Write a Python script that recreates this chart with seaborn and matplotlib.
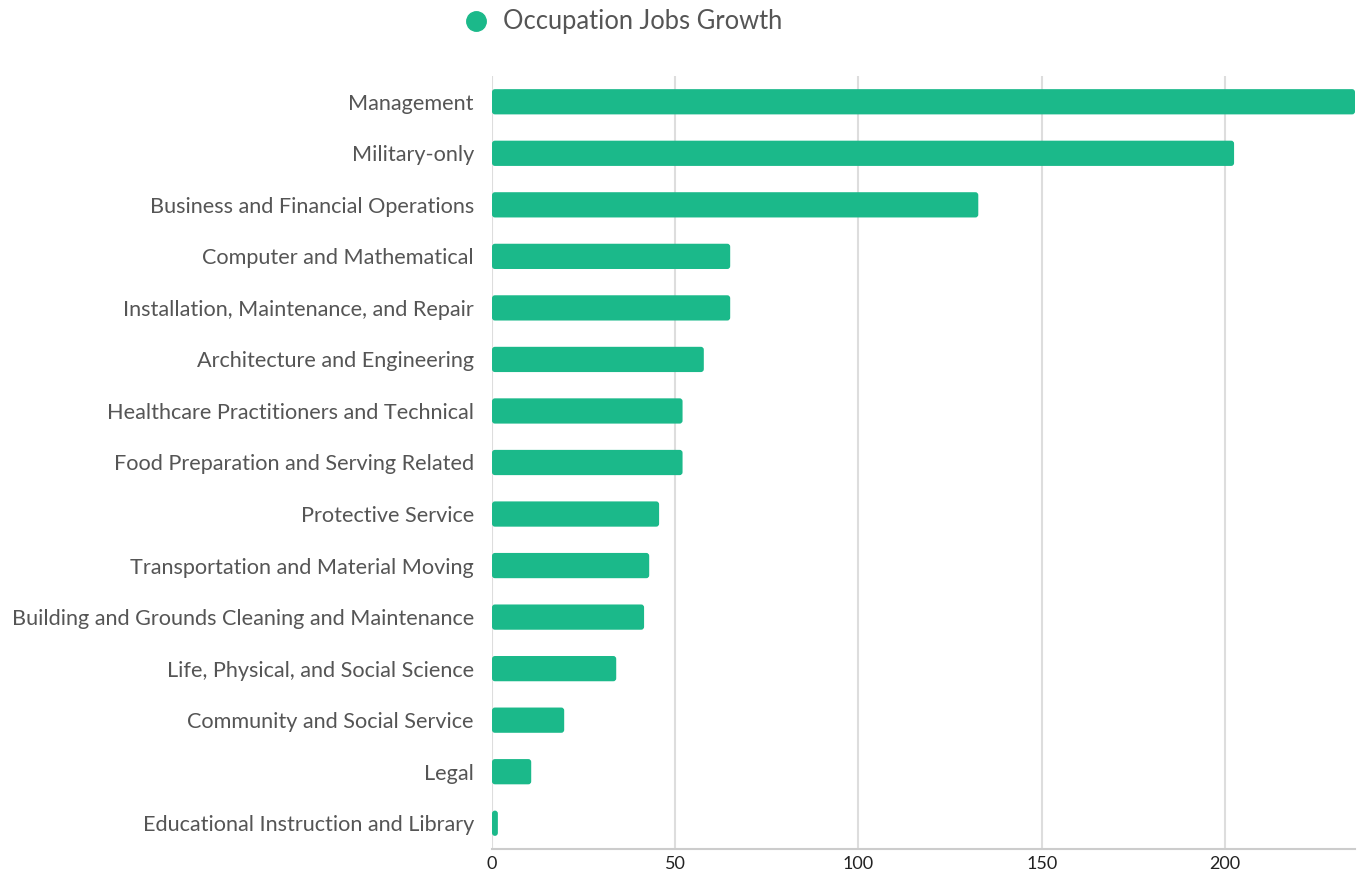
import matplotlib
matplotlib.use("Agg")
import matplotlib.pyplot as plt
import seaborn as sns
import pandas as pd
from matplotlib.patches import FancyBboxPatch
from matplotlib.lines import Line2D

categories = [
    "Management",
    "Military-only",
    "Business and Financial Operations",
    "Computer and Mathematical",
    "Installation, Maintenance, and Repair",
    "Architecture and Engineering",
    "Healthcare Practitioners and Technical",
    "Food Preparation and Serving Related",
    "Protective Service",
    "Transportation and Material Moving",
    "Building and Grounds Cleaning and Maintenance",
    "Life, Physical, and Social Science",
    "Community and Social Service",
    "Legal",
    "Educational Instruction and Library",
]
values = [235.5, 202.5, 132.7, 65, 65, 57.8, 52, 52, 45.6, 42.9, 41.5, 33.9, 19.7, 10.7, 1.6]
series_name = "Occupation Jobs Growth"
x_ticks = [0, 50, 100, 150, 200]

color = "#1bb98a"
sns.set_theme(style="white")
plt.rcParams["font.family"] = ["Lato", "DejaVu Sans"]

df = pd.DataFrame({"category": categories, "value": values})

fig = plt.figure(figsize=(13.68, 8.75), dpi=100)
ax = fig.add_axes([492/1368, 1-849/875, (1355-492)/1368, (849-76)/875])

sns.barplot(data=df, y="category", x="value", orient="h", color=color,
            width=0.49, ax=ax, saturation=1, zorder=3)

# round bar corners
xrange_px = (1355-492) / 235.5
aspect = xrange_px / 51.5
for p in list(ax.patches):
    x0, y0 = p.get_x(), p.get_y()
    w, h = p.get_width(), p.get_height()
    fb = FancyBboxPatch((x0, y0), w, h,
                        boxstyle="round,pad=0,rounding_size=0.8",
                        mutation_aspect=aspect,
                        facecolor=color, edgecolor="none", zorder=3)
    p.remove()
    ax.add_patch(fb)

ax.set_xlim(0, max(values))
ax.set_ylim(len(categories) - 0.5, -0.5)
ax.set_xticks(x_ticks)
ax.set_xticklabels([str(t) for t in x_ticks])
ax.set_xlabel("")
ax.set_ylabel("")
ax.grid(axis="x", color="#dddddd", linewidth=1.5, zorder=0)
ax.grid(axis="y", visible=False)
for s in ["top", "right", "left"]:
    ax.spines[s].set_visible(False)
ax.spines["bottom"].set_color("#cccccc")
ax.spines["bottom"].set_linewidth(1.5)
ax.tick_params(axis="y", length=0, pad=13, labelsize=15.6, labelcolor="#555555")
ax.tick_params(axis="x", length=0, pad=5, labelsize=13, labelcolor="#222222")

handle = Line2D([], [], marker="o", linestyle="none", markersize=14,
                markerfacecolor=color, markeredgecolor=color)
fig.legend([handle], [series_name], loc="center", bbox_to_anchor=(0.454, 1-22/875),
           frameon=False, fontsize=18.4, labelcolor="#555555", handletextpad=0.45,
           handlelength=1.2, borderpad=0)

fig.savefig("out.png", dpi=100)
